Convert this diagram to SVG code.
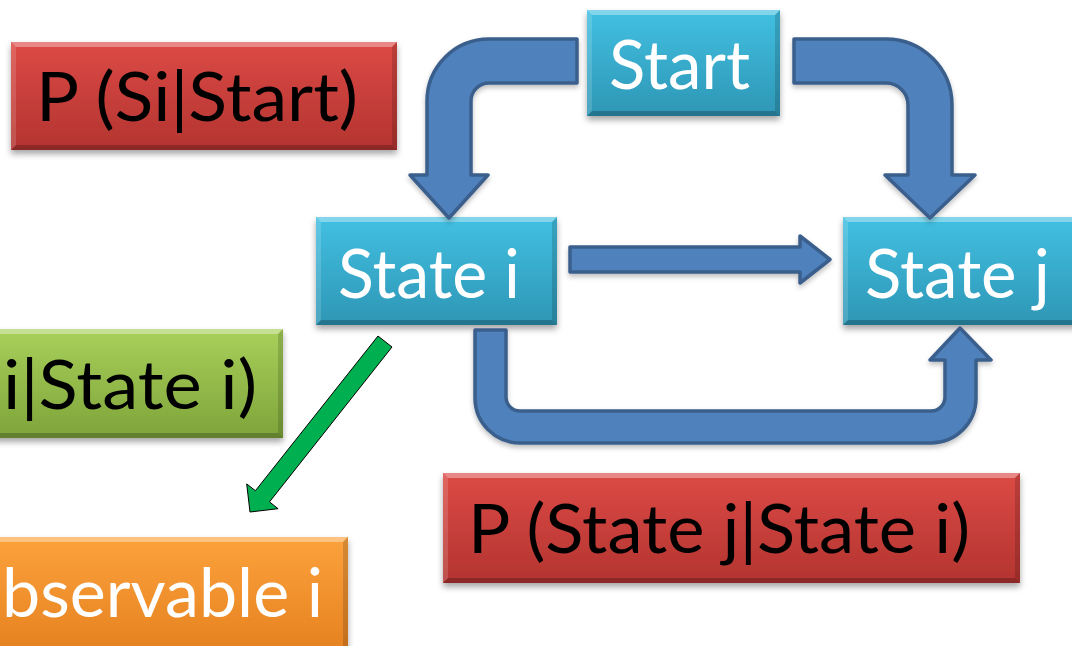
<svg xmlns="http://www.w3.org/2000/svg" width="1072" height="646" viewBox="0 0 1072 646">
  <defs>
    <linearGradient id="gCyan" x1="0" y1="0" x2="0" y2="1">
      <stop offset="0" stop-color="#42C0E2"/>
      <stop offset="1" stop-color="#2E96B5"/>
    </linearGradient>
    <linearGradient id="gRed" x1="0" y1="0" x2="0" y2="1">
      <stop offset="0" stop-color="#DC4A45"/>
      <stop offset="1" stop-color="#B33430"/>
    </linearGradient>
    <linearGradient id="gGreen" x1="0" y1="0" x2="0" y2="1">
      <stop offset="0" stop-color="#A8D05A"/>
      <stop offset="1" stop-color="#7EA43A"/>
    </linearGradient>
    <linearGradient id="gOrange" x1="0" y1="0" x2="0" y2="1">
      <stop offset="0" stop-color="#FCA23C"/>
      <stop offset="1" stop-color="#E4801F"/>
    </linearGradient>
    <filter id="shadow" x="-10%" y="-10%" width="120%" height="130%">
      <feDropShadow dx="0" dy="4" stdDeviation="3" flood-color="#000" flood-opacity="0.35"/>
    </filter>
    <filter id="softShadow" x="-10%" y="-10%" width="120%" height="130%">
      <feDropShadow dx="0" dy="3" stdDeviation="2.5" flood-color="#000" flood-opacity="0.25"/>
    </filter>
  </defs>
  <style>
    .box { filter: url(#shadow); }
    .bv-t { fill: #FFFFFF; fill-opacity: 0.35; }
    .bv-b { fill: #000000; fill-opacity: 0.22; }
    .bv-l { fill: #FFFFFF; fill-opacity: 0.15; }
    .bv-r { fill: #000000; fill-opacity: 0.15; }
    .lbl { font-family: Lato, "Liberation Sans", Arial, sans-serif; font-size: 68px; }
    .w { fill: #FFFFFF; }
    .k { fill: #000000; }
    .blue { fill: #4F81BD; stroke: #3A5F8C; stroke-width: 3.5; stroke-linejoin: round; filter: url(#softShadow); }
    .green { fill: #00B050; stroke: #000000; stroke-width: 1; stroke-linejoin: miter; }
  </style>

  <rect width="1072" height="646" fill="#FFFFFF"/>

  <!-- nodes -->
  <g id="node-start">
    <rect class="box" x="587" y="10" width="193" height="106" fill="url(#gCyan)"/>
    <polygon class="bv-t" points="587,10 780,10 775,15 592,15"/>
    <polygon class="bv-b" points="587,116 780,116 775,111 592,111"/>
    <polygon class="bv-l" points="587,10 592,15 592,111 587,116"/>
    <polygon class="bv-r" points="780,10 775,15 775,111 780,116"/>
    <text class="lbl w" x="609" y="89" font-size="64" textLength="141" lengthAdjust="spacingAndGlyphs">Start</text>
  </g>

  <g id="node-state-i">
    <rect class="box" x="316" y="217" width="241" height="108" fill="url(#gCyan)"/>
    <polygon class="bv-t" points="316,217 557,217 552,222 321,222"/>
    <polygon class="bv-b" points="316,325 557,325 552,320 321,320"/>
    <polygon class="bv-l" points="316,217 321,222 321,320 316,325"/>
    <polygon class="bv-r" points="557,217 552,222 552,320 557,325"/>
    <text class="lbl w" x="338" y="298" font-size="67" textLength="182" lengthAdjust="spacingAndGlyphs">State i</text>
  </g>

  <g id="node-state-j">
    <rect class="box" x="843" y="217" width="240" height="108" fill="url(#gCyan)"/>
    <polygon class="bv-t" points="843,217 1083,217 1078,222 848,222"/>
    <polygon class="bv-b" points="843,325 1083,325 1078,320 848,320"/>
    <polygon class="bv-l" points="843,217 848,222 848,320 843,325"/>
    <text class="lbl w" x="865" y="298" font-size="67" textLength="185" lengthAdjust="spacingAndGlyphs">State j</text>
  </g>

  <g id="node-p-start">
    <rect class="box" x="11" y="42" width="386" height="108" fill="url(#gRed)"/>
    <polygon class="bv-t" points="11,42 397,42 392,47 16,47"/>
    <polygon class="bv-b" points="11,150 397,150 392,145 16,145"/>
    <polygon class="bv-l" points="11,42 16,47 16,145 11,150"/>
    <polygon class="bv-r" points="397,42 392,47 392,145 397,150"/>
    <text class="lbl k" x="36" y="121" textLength="322" lengthAdjust="spacingAndGlyphs">P (Si|Start)</text>
  </g>

  <g id="node-p-emit">
    <rect class="box" x="-100" y="329" width="383" height="109" fill="url(#gGreen)"/>
    <polygon class="bv-t" points="-100,329 283,329 278,334 -95,334"/>
    <polygon class="bv-b" points="-100,438 283,438 278,433 -95,433"/>
    <polygon class="bv-r" points="283,329 278,334 278,433 283,438"/>
    <text class="lbl k" x="257" y="409" text-anchor="end" textLength="254" lengthAdjust="spacingAndGlyphs">i|State i)</text>
  </g>

  <g id="node-observable">
    <rect class="box" x="-100" y="537" width="448" height="120" fill="url(#gOrange)"/>
    <polygon class="bv-t" points="-100,537 348,537 343,542 -95,542"/>
    <polygon class="bv-r" points="348,537 343,542 343,652 348,657"/>
    <text class="lbl w" x="2" y="617" textLength="321" lengthAdjust="spacingAndGlyphs">bservable i</text>
  </g>

  <g id="node-p-trans">
    <rect class="box" x="443" y="473" width="577" height="110" fill="url(#gRed)"/>
    <polygon class="bv-t" points="443,473 1020,473 1015,478 448,478"/>
    <polygon class="bv-b" points="443,583 1020,583 1015,578 448,578"/>
    <polygon class="bv-l" points="443,473 448,478 448,578 443,583"/>
    <polygon class="bv-r" points="1020,473 1015,478 1015,578 1020,583"/>
    <text class="lbl k" x="468" y="553" textLength="502" lengthAdjust="spacingAndGlyphs">P (State j|State i)</text>
  </g>

  <!-- connectors -->
  <g id="connectors">
    <!-- Start to State i -->
    <path class="blue" d="M 577 39 L 489 39 A 62 62 0 0 0 427 101 L 427 175 L 410 175 L 449 218 L 488 175 L 471 175 L 471 101 A 18 18 0 0 1 489 83 L 577 83 Z"/>
    <!-- Start to State j -->
    <path class="blue" d="M 794 39 L 886 39 A 66 66 0 0 1 952 105 L 952 175 L 975 175 L 930 218 L 885 175 L 908 175 L 908 105 A 22 22 0 0 0 886 83 L 794 83 Z"/>
    <!-- State i to State j, straight -->
    <path class="blue" d="M 570 247 L 800 247 L 800 236 L 830 259.5 L 800 283 L 800 272 L 570 272 Z"/>
    <!-- State i to State j, looping underneath -->
    <path class="blue" d="M 475 330 L 506 330 L 506 397 A 14 14 0 0 0 520 411 L 931 411 A 14 14 0 0 0 945 397 L 945 360 L 930 360 L 960 328 L 991 360 L 976 360 L 976 398 A 45 45 0 0 1 931 443 L 520 443 A 45 45 0 0 1 475 398 Z"/>
    <!-- State i to observable -->
    <path class="green" d="M 378 336 L 392 347 L 269.5 501.9 L 278.1 508.7 L 250 512 L 246.7 483.9 L 255.4 490.7 Z"/>
  </g>
</svg>
